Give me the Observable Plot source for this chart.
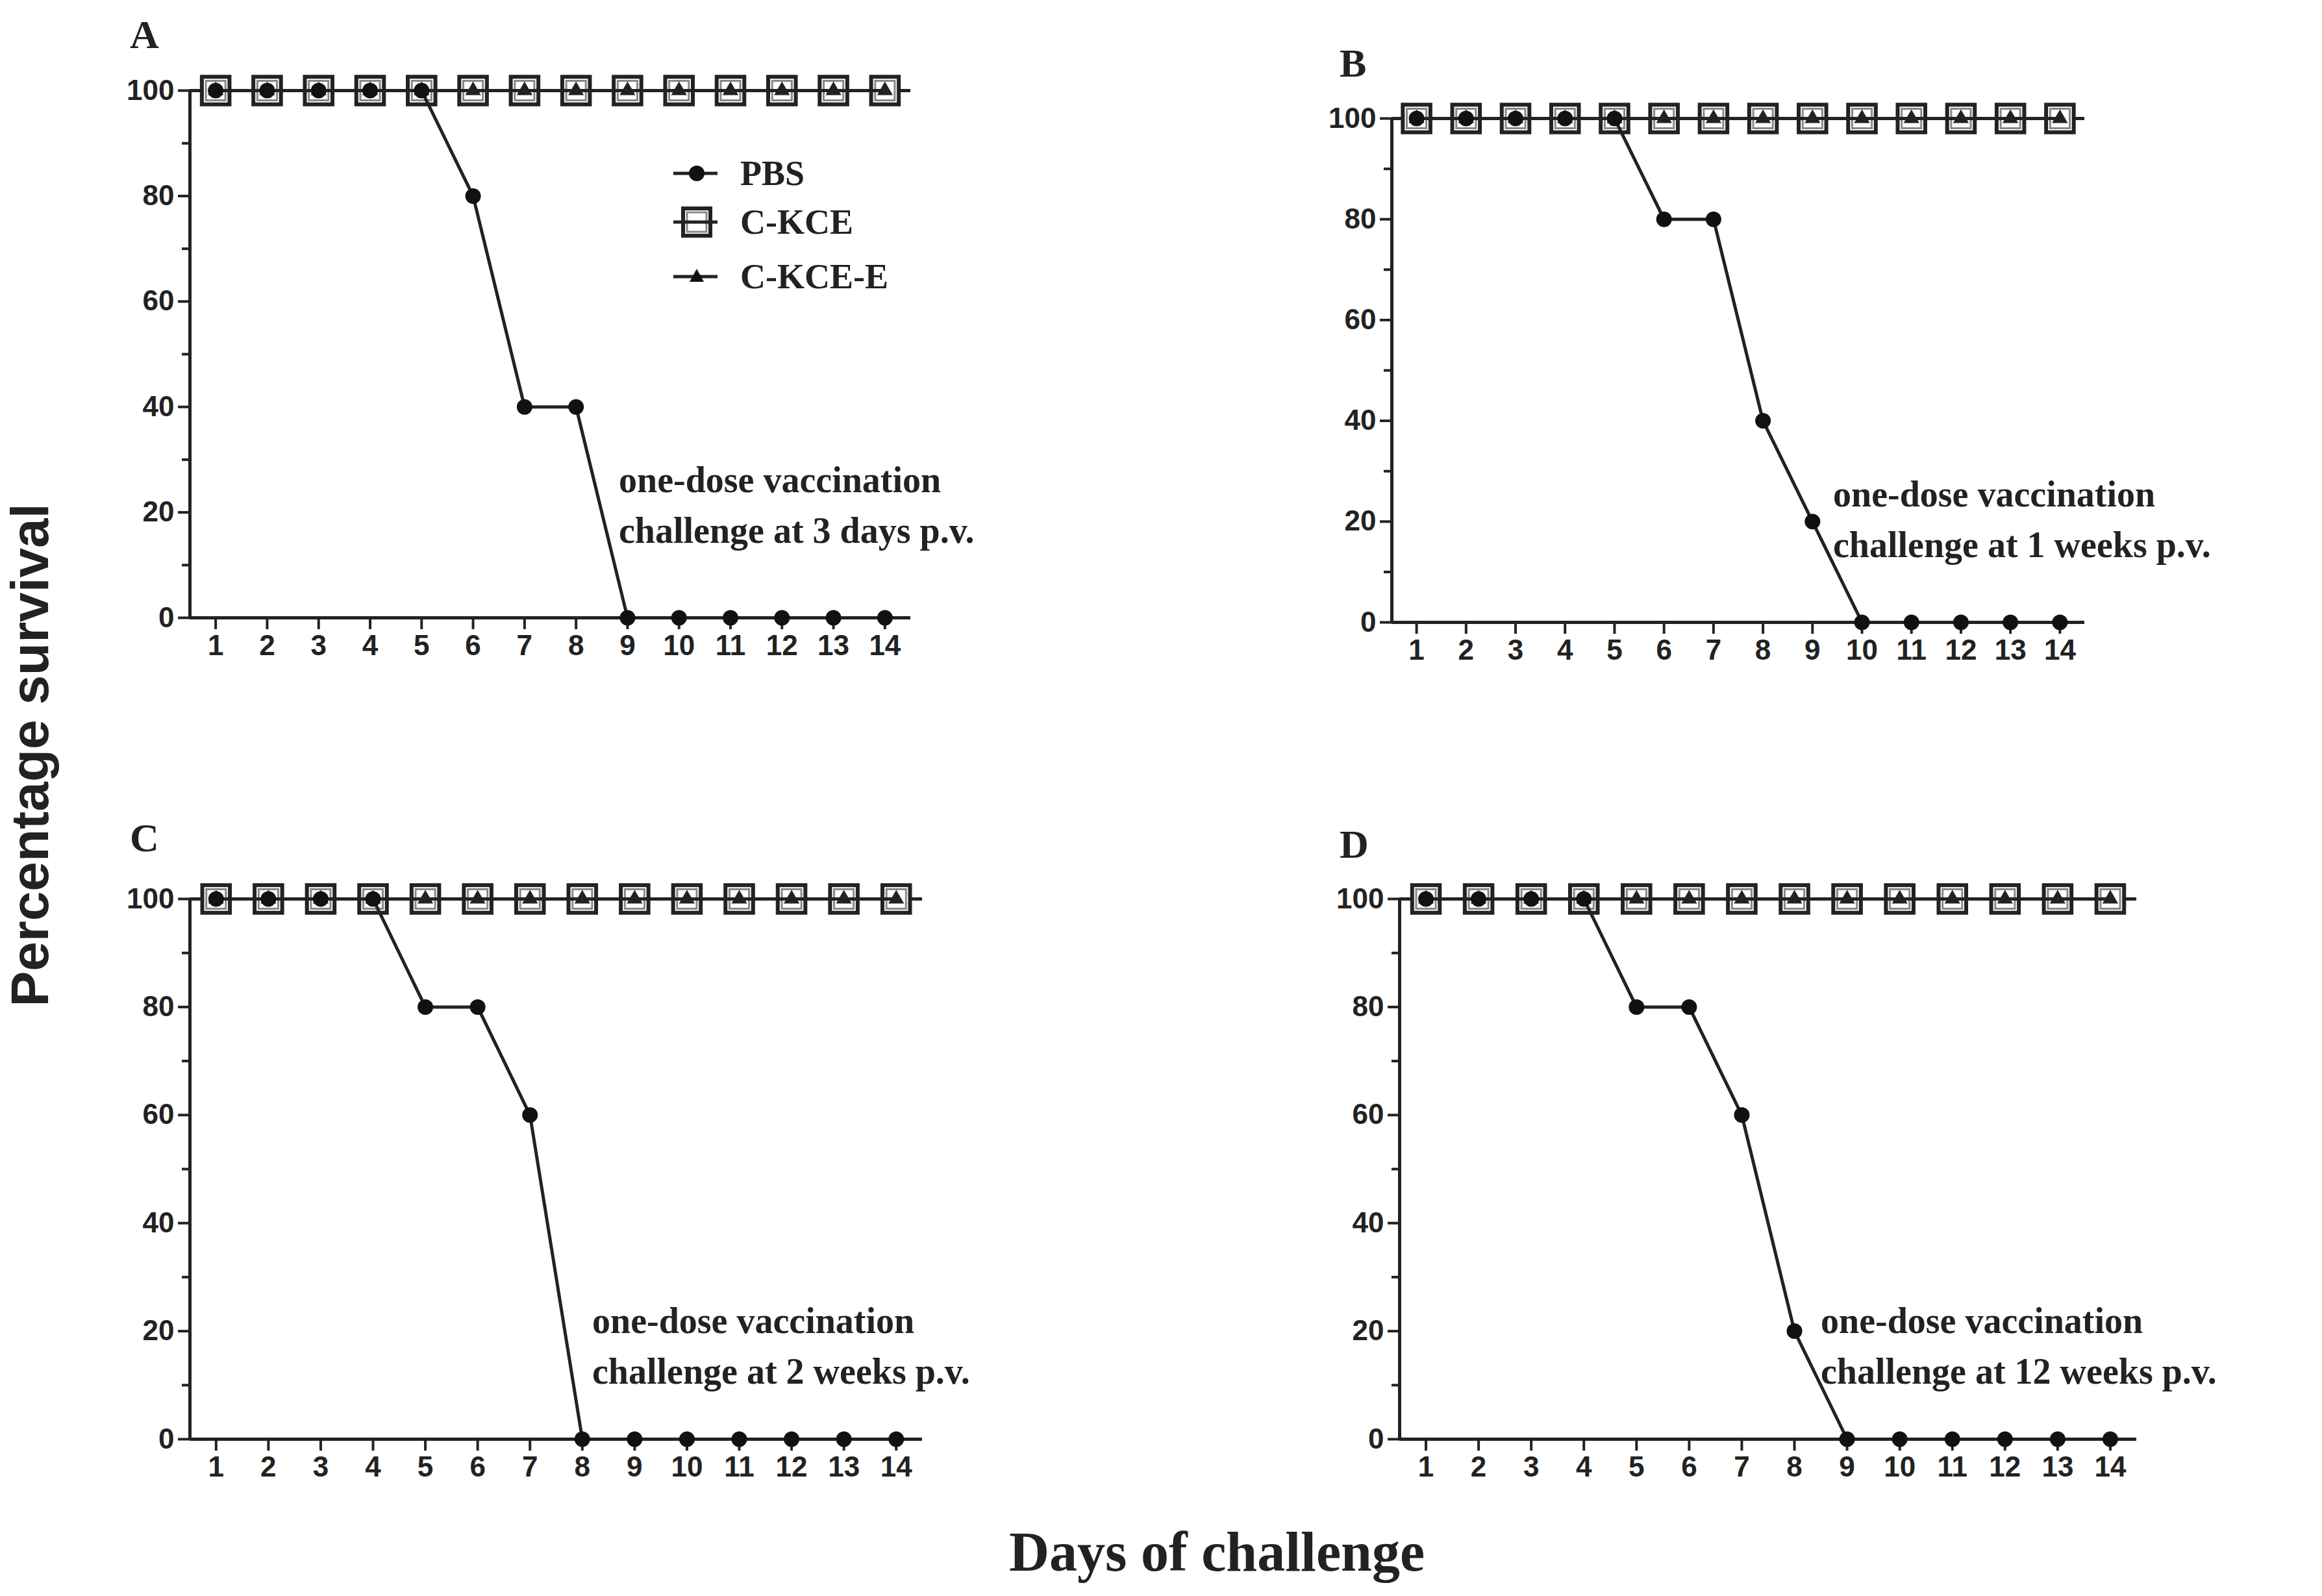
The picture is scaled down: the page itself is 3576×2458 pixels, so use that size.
<!DOCTYPE html>
<html><head><meta charset="utf-8">
<script src="https://cdn.jsdelivr.net/npm/d3@7"></script>
<script src="https://cdn.jsdelivr.net/npm/@observablehq/plot@0.6"></script>
<style>
body{margin:0;background:#fff;}
#root{position:relative;width:3576px;height:2458px;background:#fff;}
.abs{position:absolute;}
.serif{font-family:"Liberation Serif","Times New Roman",serif;font-weight:bold;color:#222;white-space:nowrap;}
</style></head>
<body><div id="root"></div>
<script>
const days = [1,2,3,4,5,6,7,8,9,10,11,12,13,14];
const pbsA = [100,100,100,100,100,80,40,40,0,0,0,0,0,0];
const pbsB = [100,100,100,100,100,80,80,40,20,0,0,0,0,0];
const pbsC = [100,100,100,100,80,80,60,0,0,0,0,0,0,0];
const pbsD = [100,100,100,100,80,80,60,20,0,0,0,0,0,0];
const ckce = [100,100,100,100,100,100,100,100,100,100,100,100,100,100];
const ckceE = [100,100,100,100,100,100,100,100,100,100,100,100,100,100];
const panelLetters = ["A","B","C","D"];
const notes = [
  ["one-dose vaccination","challenge at 3 days p.v."],
  ["one-dose vaccination","challenge at 1 weeks p.v."],
  ["one-dose vaccination","challenge at 2 weeks p.v."],
  ["one-dose vaccination","challenge at 12 weeks p.v."]
];
const seriesNames = ["PBS","C-KCE","C-KCE-E"];

const root = document.getElementById("root");
const tickFont = '"Liberation Sans Narrow","Arial Narrow","Liberation Sans",sans-serif';

const frames = [[292,1402,139,951],[2143,3210,182,958],[292,1420,1384,2216],[2155,3290,1384,2216]];
const pbsAll = [pbsA,pbsB,pbsC,pbsD];
const letterPos = [[200,18],[2063,62],[200,1255],[2063,1265]];
const notePos = [[953,700],[2823,722],[912,1995],[2804,1995]];

frames.forEach((f,i)=>{
  const [L,R,T,B] = f;
  const mL=140,mR=50,mT=50,mB=110;
  const pbs = days.map((d,j)=>({day:d,v:pbsAll[i][j]}));
  const ck = days.map((d,j)=>({day:d,v:ckce[j]}));
  const cke = days.map((d,j)=>({day:d,v:ckceE[j]}));
  const plot = Plot.plot({
    width:(R-L)+mL+mR, height:(B-T)+mT+mB,
    marginLeft:mL, marginRight:mR, marginTop:mT, marginBottom:mB,
    style:{fontFamily:tickFont,fontWeight:"bold",fontSize:"44px",color:"#222",background:"transparent",overflow:"visible"},
    x:{type:"linear",domain:[0.5,14.5],axis:null},
    y:{type:"linear",domain:[0,100],axis:null},
    marks:[
      Plot.axisY({ticks:d3.range(0,101,20),tickSize:18,tickPadding:6,anchor:"left",label:null,fontSize:44,stroke:"#222",strokeWidth:4}),
      Plot.axisY({ticks:d3.range(10,101,20),tickSize:12,tickFormat:()=>"",anchor:"left",label:null,stroke:"#222",strokeWidth:4}),
      Plot.axisX({ticks:days,tickSize:18,tickPadding:8,anchor:"bottom",label:null,fontSize:44,stroke:"#222",strokeWidth:4}),
      Plot.ruleX([0.5],{y1:0,y2:100,stroke:"#222",strokeWidth:5}),
      Plot.ruleY([0],{x1:0.5,x2:14.5,stroke:"#222",strokeWidth:5}),
      Plot.ruleY([100],{x1:0.5,x2:14.5,stroke:"#222",strokeWidth:5}),
      Plot.line(ck,{x:"day",y:"v",stroke:"#222",strokeWidth:5}),
      Plot.dot(ck,{x:"day",y:"v",symbol:"square",r:24,stroke:"#222",strokeWidth:6,fill:"white"}),
      Plot.dot(ck,{x:"day",y:"v",symbol:"square",r:17,stroke:"#888",strokeWidth:3,fill:"none"}),
      Plot.line(cke,{x:"day",y:"v",stroke:"#222",strokeWidth:5}),
      Plot.dot(cke,{x:"day",y:"v",symbol:"triangle",r:9,fill:"#222"}),
      Plot.line(pbs,{x:"day",y:"v",stroke:"#222",strokeWidth:5}),
      Plot.dot(pbs,{x:"day",y:"v",r:12,fill:"#111"})
    ]
  });
  plot.classList.add("abs");
  plot.style.left=(L-mL)+"px"; plot.style.top=(T-mT)+"px";
  root.appendChild(plot);

  const lt=document.createElement("div");
  lt.className="abs serif"; lt.style.fontSize="62px";
  lt.style.left=letterPos[i][0]+"px"; lt.style.top=letterPos[i][1]+"px";
  lt.textContent=panelLetters[i]; root.appendChild(lt);

  const nt=document.createElement("div");
  nt.className="abs serif"; nt.style.fontSize="56px"; nt.style.lineHeight="78px";
  nt.style.left=notePos[i][0]+"px"; nt.style.top=notePos[i][1]+"px";
  nt.innerHTML=notes[i].join("<br>"); root.appendChild(nt);
});

const lg = d3.select(root).append("svg").attr("class","abs").style("left","1020px").style("top","230px")
  .attr("width",560).attr("height",240);
const legY=[37,112,196];
seriesNames.forEach((n,k)=>{
  const g=lg.append("g").attr("transform",`translate(0,${legY[k]})`);
  g.append("line").attr("x1",17).attr("x2",85).attr("stroke","#222").attr("stroke-width",5);
  if(k===0) g.append("circle").attr("cx",53).attr("r",12).attr("fill","#111");
  if(k===1){g.append("rect").attr("x",32).attr("y",-21).attr("width",42).attr("height",42).attr("fill","white").attr("stroke","#222").attr("stroke-width",6);
    g.append("rect").attr("x",38).attr("y",-15).attr("width",30).attr("height",30).attr("fill","none").attr("stroke","#888").attr("stroke-width",3);
    g.append("line").attr("x1",32).attr("x2",74).attr("stroke","#222").attr("stroke-width",5);}
  if(k===2) g.append("path").attr("d","M53,-12L64,8L42,8Z").attr("fill","#111");
  g.append("text").attr("x",120).attr("y",18).text(n)
   .attr("font-family",'"Liberation Serif","Times New Roman",serif').attr("font-weight","bold").attr("font-size",54).attr("fill","#222");
});

const yt=document.createElement("div");
yt.className="abs"; yt.textContent="Percentage survival";
Object.assign(yt.style,{left:"46px",top:"1163px",transform:"translate(-50%,-50%) rotate(-90deg)",fontFamily:'"Liberation Sans",Arial,sans-serif',fontWeight:"bold",fontSize:"82px",color:"#222",whiteSpace:"nowrap"});
root.appendChild(yt);
const xt=document.createElement("div");
xt.className="abs serif"; xt.textContent="Days of challenge";
Object.assign(xt.style,{left:"1874px",top:"2390px",transform:"translate(-50%,-50%)",fontSize:"86px"});
root.appendChild(xt);
</script></body></html>
